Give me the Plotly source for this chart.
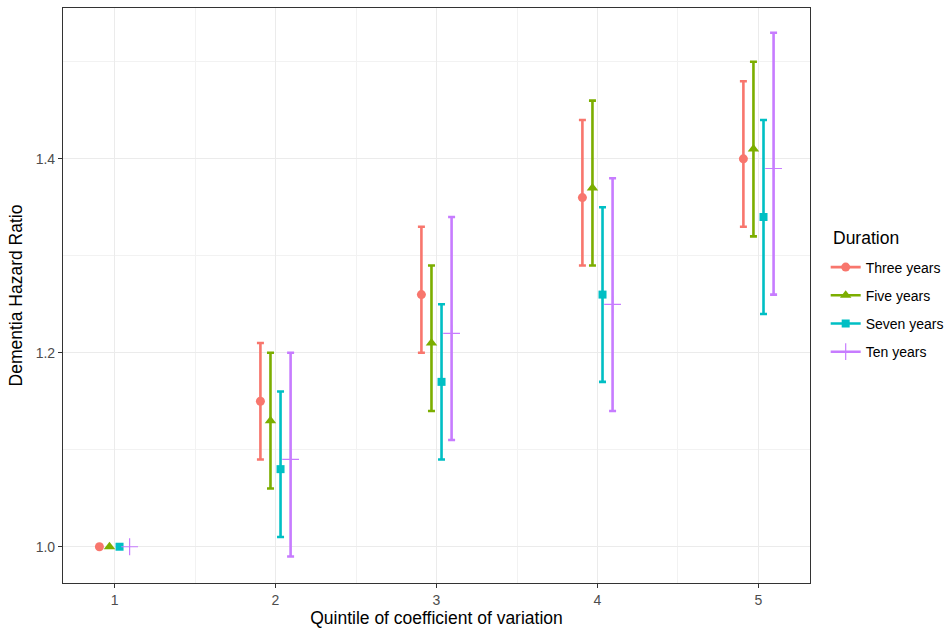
import plotly.graph_objects as go

quintiles = [1, 2, 3, 4, 5]
series_names = ["Three years", "Five years", "Seven years", "Ten years"]

hr_three = [1.00, 1.15, 1.26, 1.36, 1.40]
lo_three = [1.00, 1.09, 1.20, 1.29, 1.33]
hi_three = [1.00, 1.21, 1.33, 1.44, 1.48]

hr_five = [1.00, 1.13, 1.21, 1.37, 1.41]
lo_five = [1.00, 1.06, 1.14, 1.29, 1.32]
hi_five = [1.00, 1.20, 1.29, 1.46, 1.50]

hr_seven = [1.00, 1.08, 1.17, 1.26, 1.34]
lo_seven = [1.00, 1.01, 1.09, 1.17, 1.24]
hi_seven = [1.00, 1.16, 1.25, 1.35, 1.44]

hr_ten = [1.00, 1.09, 1.22, 1.25, 1.39]
lo_ten = [1.00, 0.99, 1.11, 1.14, 1.26]
hi_ten = [1.00, 1.20, 1.34, 1.38, 1.53]

y_ticks = [1.0, 1.2, 1.4]
y_tick_labels = ["1.0", "1.2", "1.4"]

colors = ["#F8766D", "#7CAE00", "#00BFC4", "#C77CFF"]
symbols = ["circle", "triangle-up", "square", "cross-thin"]
sizes = [9, 10, 8, 12]
offsets = [-0.09375, -0.03125, 0.03125, 0.09375]

data = [
    (hr_three, lo_three, hi_three),
    (hr_five, lo_five, hi_five),
    (hr_seven, lo_seven, hi_seven),
    (hr_ten, lo_ten, hi_ten),
]

fig = go.Figure()
FONT = "Liberation Sans, Arial, sans-serif"

for i, (name, (hr, lo, hi)) in enumerate(zip(series_names, data)):
    xs = [q + offsets[i] for q in quintiles]
    plus = [h - v for h, v in zip(hi, hr)]
    minus = [v - l for v, l in zip(hr, lo)]
    has_bar = [p + m > 0 for p, m in zip(plus, minus)]
    fig.add_trace(go.Scatter(
        x=[x for x, b in zip(xs, has_bar) if b],
        y=[v for v, b in zip(hr, has_bar) if b],
        mode="markers",
        marker=dict(size=0.1, color=colors[i], opacity=0),
        error_y=dict(type="data", symmetric=False,
                     array=[p for p, b in zip(plus, has_bar) if b],
                     arrayminus=[m for m, b in zip(minus, has_bar) if b],
                     color=colors[i], thickness=2.6, width=3.5),
        showlegend=False, hoverinfo="skip",
    ))

for i, (name, (hr, lo, hi)) in enumerate(zip(series_names, data)):
    xs = [q + offsets[i] for q in quintiles]
    if symbols[i] == "cross-thin":
        mk = dict(symbol=symbols[i], size=sizes[i], color=colors[i],
                  line=dict(color=colors[i], width=1.2))
    else:
        mk = dict(symbol=symbols[i], size=sizes[i], color=colors[i],
                  line=dict(width=0))
    fig.add_trace(go.Scatter(
        x=xs, y=hr, mode="markers", marker=mk, name=name,
        showlegend=False,
    ))
    fig.add_trace(go.Scatter(
        x=[None], y=[None], mode="lines+markers", name=name,
        line=dict(color=colors[i], width=2.6), marker=mk,
        legendgroup=name, showlegend=True,
    ))

axis_common = dict(
    showline=True, mirror=True, linecolor="#333333", linewidth=1.1,
    ticks="outside", ticklen=4, tickcolor="#333333", tickwidth=1.1,
    tickfont=dict(family=FONT, size=14, color="#4D4D4D"),
    showgrid=True, gridcolor="#EBEBEB", gridwidth=1.1, zeroline=False,
    automargin=False,
)

fig.update_layout(
    width=947, height=629,
    margin=dict(l=62.5, r=137, t=8, b=45.5, autoexpand=False),
    paper_bgcolor="white", plot_bgcolor="white",
    font=dict(family=FONT),
    legend=dict(
        font=dict(family=FONT, size=14, color="black"),
        x=1.021, xanchor="left", y=0.5765, yanchor="top",
        tracegroupgap=7, itemwidth=30, bgcolor="rgba(0,0,0,0)",
    ),
    annotations=[dict(
        text="Duration", xref="paper", yref="paper",
        x=1.0285, y=0.5795, xanchor="left", yanchor="bottom", showarrow=False,
        font=dict(family=FONT, size=17.5, color="black"),
    )],
    xaxis=dict(
        range=[0.68, 5.32], tickvals=quintiles, ticktext=[str(q) for q in quintiles],
        title=dict(text="Quintile of coefficient of variation",
                   font=dict(family=FONT, size=17.5, color="black"), standoff=2),
        minor=dict(tickvals=[1.5, 2.5, 3.5, 4.5], showgrid=True,
                   gridcolor="#F2F2F2", gridwidth=0.6, ticks=""),
        **axis_common,
    ),
    yaxis=dict(
        range=[0.9626, 1.5555], tickvals=y_ticks, ticktext=y_tick_labels,
        title=dict(text="Dementia Hazard Ratio",
                   font=dict(family=FONT, size=17.5, color="black"), standoff=8),
        minor=dict(tickvals=[1.1, 1.3, 1.5], showgrid=True,
                   gridcolor="#F2F2F2", gridwidth=0.6, ticks=""),
        **axis_common,
    ),
)

# remove the browser's default 8px page margin so the 947x629 figure fills the window
fig.write_html("out.html", config={"displayModeBar": False},
               post_script="document.body.style.margin='0px';")
